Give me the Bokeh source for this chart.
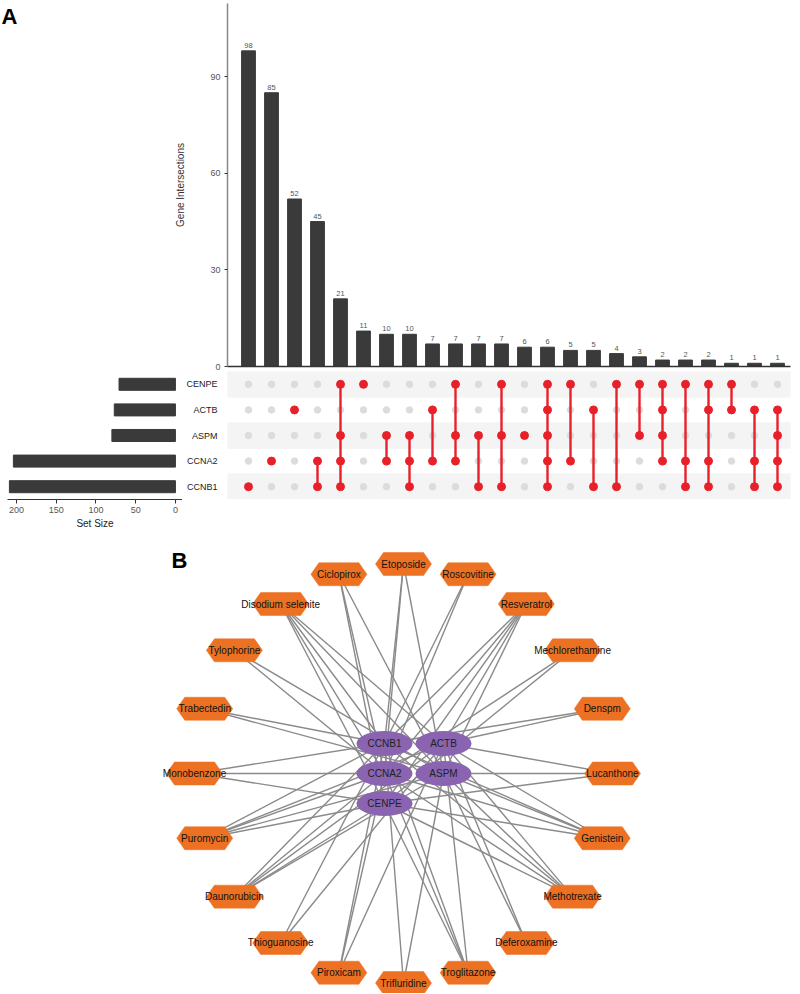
import math
from bokeh.plotting import figure
from bokeh.layouts import column, row
from bokeh.models import Range1d, FactorRange, FixedTicker
from bokeh.core.properties import value
from bokeh.embed import file_html
from bokeh.resources import INLINE

FONT = "Liberation Sans"

# ---------------- Panel A data ----------------
sets = ["CENPE", "ACTB", "ASPM", "CCNA2", "CCNB1"]          # top to bottom
set_sizes = [71, 77, 80, 204, 209]
intersection_counts = [98, 85, 52, 45, 21, 11, 10, 10, 7, 7, 7, 7, 6, 6, 5, 5, 4, 3, 2, 2, 2, 1, 1, 1]
intersection_members = [
    ["CCNB1"],
    ["CCNA2"],
    ["ACTB"],
    ["CCNA2", "CCNB1"],
    ["CENPE", "ASPM", "CCNA2", "CCNB1"],
    ["CENPE"],
    ["ASPM", "CCNA2"],
    ["ASPM", "CCNA2", "CCNB1"],
    ["ACTB", "CCNA2"],
    ["CENPE", "ASPM", "CCNA2"],
    ["ASPM", "CCNB1"],
    ["CENPE", "ASPM", "CCNB1"],
    ["ASPM"],
    ["CENPE", "ACTB", "ASPM", "CCNA2", "CCNB1"],
    ["CENPE", "CCNA2"],
    ["ACTB", "CCNB1"],
    ["CENPE", "CCNB1"],
    ["CENPE", "ASPM"],
    ["CENPE", "ACTB", "ASPM", "CCNA2"],
    ["CENPE", "CCNA2", "CCNB1"],
    ["CENPE", "ACTB", "CCNA2", "CCNB1"],
    ["CENPE", "ACTB"],
    ["ACTB", "CCNA2", "CCNB1"],
    ["ACTB", "ASPM", "CCNA2", "CCNB1"],
]
bar_ticks = [0, 30, 60, 90]
size_ticks = [0, 50, 100, 150, 200]

# ---------------- Panel B data ----------------
genes = ["CCNB1", "ACTB", "CCNA2", "ASPM", "CENPE"]
gene_grid = [(0, 0), (1, 0), (0, 1), (1, 1), (0, 2)]   # (column, row) in hub cluster
drugs = ["Etoposide", "Roscovitine", "Resveratrol", "Mechlorethamine", "Denspm",
         "Lucanthone", "Genistein", "Methotrexate", "Deferoxamine", "Troglitazone",
         "Trifluridine", "Piroxicam", "Thioguanosine", "Daunorubicin", "Puromycin",
         "Monobenzone", "Trabectedin", "Tylophorine", "Disodium selenite", "Ciclopirox"]
drug_targets = {
    "Etoposide": ["CCNB1", "CCNA2", "ASPM"],
    "Roscovitine": ["CCNB1", "CCNA2"],
    "Resveratrol": ["CCNB1", "CCNA2", "CENPE", "ACTB", "ASPM"],
    "Mechlorethamine": ["CCNA2", "CENPE"],
    "Denspm": ["ACTB", "CCNB1"],
    "Lucanthone": ["ACTB", "ASPM", "CENPE"],
    "Genistein": ["CCNB1", "CCNA2", "ACTB", "ASPM", "CENPE"],
    "Methotrexate": ["CCNB1", "CCNA2", "ACTB", "ASPM", "CENPE"],
    "Deferoxamine": ["ACTB", "ASPM"],
    "Troglitazone": ["CCNB1", "CCNA2", "ACTB", "CENPE"],
    "Trifluridine": ["CCNB1", "ASPM"],
    "Piroxicam": ["CCNB1", "CCNA2", "ACTB"],
    "Thioguanosine": ["CCNB1", "ACTB"],
    "Daunorubicin": ["CCNB1", "CCNA2", "ACTB", "ASPM", "CENPE"],
    "Puromycin": ["CCNB1", "CCNA2", "ACTB", "ASPM", "CENPE"],
    "Monobenzone": ["CCNB1", "CCNA2", "CENPE"],
    "Trabectedin": ["CCNB1", "ASPM"],
    "Tylophorine": ["CCNA2", "ASPM"],
    "Disodium selenite": ["CCNB1", "CCNA2", "ACTB", "ASPM", "CENPE"],
    "Ciclopirox": ["CCNA2", "CENPE", "ASPM"],
}

BAR = "#3a3a3a"
RED = "#e8202a"
GREY_DOT = "#dcdcdc"
BAND = "#f4f4f4"
ORANGE = "#ec7123"
PURPLE = "#8a64b0"
EDGE = "#8a8a8a"


def clean(p):
    p.outline_line_color = None
    p.grid.visible = False
    p.background_fill_color = "white"
    p.border_fill_color = "white"
    p.frame_align = False


# ---------------- Panel A ----------------
n = len(intersection_counts)
idx = list(range(1, n + 1))
xr = Range1d(0.087, n + 0.565)

TOP_H = 371
LEFT_A = 171
# spacer with "A"
pa = figure(width=LEFT_A, height=TOP_H, x_range=Range1d(0, LEFT_A), y_range=Range1d(TOP_H, 0),
            x_axis_type=None, y_axis_type=None, toolbar_location=None,
            output_backend="svg", min_border=0)
clean(pa)
pa.text(x=[1], y=[3], text=["A"], text_font=value(FONT),
        text_font_size="22px", text_font_style="bold", text_baseline="top",
        text_align="left", text_color="black")

# intersection bars
pb = figure(width=800 - LEFT_A, height=TOP_H, x_range=xr, y_range=Range1d(0, 112.7),
            toolbar_location=None, output_backend="svg",
            min_border_left=56, min_border_right=10, min_border_top=3, min_border_bottom=5)
clean(pb)
pb.vbar(x=idx, top=intersection_counts, width=0.6, color=BAR)
pb.text(x=idx, y=intersection_counts, text=[str(c) for c in intersection_counts],
        text_align="center", text_baseline="bottom", y_offset=-3,
        text_font=value(FONT), text_font_size="7.5px", text_color="#555555")
pb.yaxis.ticker = FixedTicker(ticks=bar_ticks)
pb.yaxis.axis_label = "Gene Intersections"
pb.yaxis.axis_label_text_font = FONT
pb.yaxis.axis_label_text_font_size = "10px"
pb.yaxis.axis_label_text_font_style = "normal"
pb.yaxis.axis_label_text_color = "#333333"
pb.yaxis.axis_label_standoff = 21
pb.yaxis.major_label_text_font = FONT
pb.yaxis.major_label_text_font_size = "9px"
pb.yaxis.major_label_text_color = "#555555"
pb.yaxis.major_label_standoff = 4
pb.yaxis.axis_line_color = "#888888"
pb.yaxis.axis_line_width = 1.5
pb.yaxis.major_tick_line_color = "#333333"
pb.yaxis.major_tick_out = 3
pb.yaxis.major_tick_in = 0
pb.yaxis.minor_tick_line_color = None
pb.xaxis.ticker = FixedTicker(ticks=[])
pb.xaxis.major_tick_out = 0
pb.xaxis.major_tick_in = 0
pb.xaxis.minor_tick_line_color = None
pb.xaxis.major_label_text_font_size = "0px"
pb.xaxis.major_label_standoff = 0
pb.xaxis.axis_line_color = "#333333"
pb.xaxis.axis_line_width = 1.5

# set size bars
MAT_H = 128
yr = FactorRange(factors=list(reversed(sets)), range_padding=0)
ps = figure(width=182, height=MAT_H + 36, x_range=Range1d(211.4, -8.9), y_range=yr,
            toolbar_location=None, output_backend="svg",
            min_border_left=7, min_border_right=0, min_border_top=0, min_border_bottom=36)
clean(ps)
ps.hbar(y=sets, left=0, right=set_sizes, height=0.47, color=BAR)
ps.yaxis.visible = False
ps.xaxis.ticker = FixedTicker(ticks=size_ticks)
ps.xaxis.axis_label = "Set Size"
ps.xaxis.axis_label_text_font = FONT
ps.xaxis.axis_label_text_font_size = "10px"
ps.xaxis.axis_label_text_font_style = "normal"
ps.xaxis.axis_label_text_color = "#222222"
ps.xaxis.axis_label_standoff = 2
ps.xaxis.major_label_text_font = FONT
ps.xaxis.major_label_text_font_size = "9px"
ps.xaxis.major_label_text_color = "#555555"
ps.xaxis.major_label_standoff = 3
ps.xaxis.axis_line_color = "#333333"
ps.xaxis.major_tick_line_color = "#333333"
ps.xaxis.major_tick_out = 4
ps.xaxis.major_tick_in = 0
ps.xaxis.minor_tick_line_color = None

# matrix
pm = figure(width=618, height=MAT_H, x_range=xr, y_range=yr,
            toolbar_location=None, output_backend="svg",
            min_border_left=45, min_border_right=10, min_border_top=0, min_border_bottom=0)
clean(pm)
pm.hbar(y=sets[0::2], left=xr.start, right=xr.end, height=1, color=BAND)
gx, gy, rx_, ry_ = [], [], [], []
sx0, sy0, sy1 = [], [], []
for j, members in zip(idx, intersection_members):
    for s in sets:
        if s in members:
            rx_.append(j); ry_.append(s)
        else:
            gx.append(j); gy.append(s)
    rows = [sets.index(m) for m in members]
    if len(rows) > 1:
        sx0.append(j); sy0.append(sets[min(rows)]); sy1.append(sets[max(rows)])
pm.scatter(x=gx, y=gy, size=6.5, color=GREY_DOT)
pm.segment(x0=sx0, y0=sy0, x1=sx0, y1=sy1, line_color=RED, line_width=2.4)
pm.scatter(x=rx_, y=ry_, size=8, color=RED)
pm.xaxis.visible = False
pm.yaxis.axis_line_color = None
pm.yaxis.major_tick_line_color = None
pm.yaxis.minor_tick_line_color = None
pm.yaxis.major_label_text_font = FONT
pm.yaxis.major_label_text_font_size = "9px"
pm.yaxis.major_label_text_color = "#222222"
pm.yaxis.major_label_standoff = 4

# ---------------- Panel B ----------------
W, H = 800, 458
pn = figure(width=W, height=H, x_range=Range1d(0, W), y_range=Range1d(H, 0),
            x_axis_type=None, y_axis_type=None, toolbar_location=None,
            output_backend="svg", min_border=0)
clean(pn)
cx, cy = 403.0, 238.0          # ring centre (layout)
rx, ry = 209.0, 209.5          # ring radii (layout)
hub_dx = [-19.0, 40.0]         # hub column offsets
hub_dy = 30.0                  # hub row spacing
step = 2 * math.pi / len(drugs)
dpos = {}
for i, d in enumerate(drugs):
    a = i * step
    dpos[d] = (cx + rx * math.sin(a), cy - ry * math.cos(a))
gpos = {}
for g, (c, r) in zip(genes, gene_grid):
    gpos[g] = (cx + hub_dx[c], cy + (r - 1) * hub_dy)

ex0, ey0, ex1, ey1 = [], [], [], []
for d in drugs:
    for g in drug_targets[d]:
        ex0.append(dpos[d][0]); ey0.append(dpos[d][1])
        ex1.append(gpos[g][0]); ey1.append(gpos[g][1])
pn.segment(x0=ex0, y0=ey0, x1=ex1, y1=ey1, line_color=EDGE, line_width=1.4)

hx = [-28, -20, 20, 28, 20, -20]
hy = [0, -11.5, -11.5, 0, 11.5, 11.5]
pn.patches(xs=[[dpos[d][0] + a for a in hx] for d in drugs],
           ys=[[dpos[d][1] + b for b in hy] for d in drugs],
           fill_color=ORANGE, line_color=ORANGE, line_width=0.5)
pn.text(x=[dpos[d][0] for d in drugs], y=[dpos[d][1] for d in drugs], text=drugs,
        text_align="center", text_baseline="middle", text_font=value(FONT),
        text_font_size="10px", text_color="#111111")

pn.ellipse(x=[gpos[g][0] for g in genes], y=[gpos[g][1] for g in genes],
           width=56, height=25, fill_color=PURPLE, line_color=None)
pn.text(x=[gpos[g][0] for g in genes], y=[gpos[g][1] for g in genes], text=genes,
        text_align="center", text_baseline="middle", text_font=value(FONT),
        text_font_size="10px", text_color="#222222")

pn.text(x=[171], y=[12], text=["B"], text_font=value(FONT), text_font_size="22px",
        text_font_style="bold", text_baseline="top", text_align="left", text_color="black")

layout = column(row(pa, pb), row(ps, pm), pn)
open("out.html", "w").write(file_html(layout, INLINE))
